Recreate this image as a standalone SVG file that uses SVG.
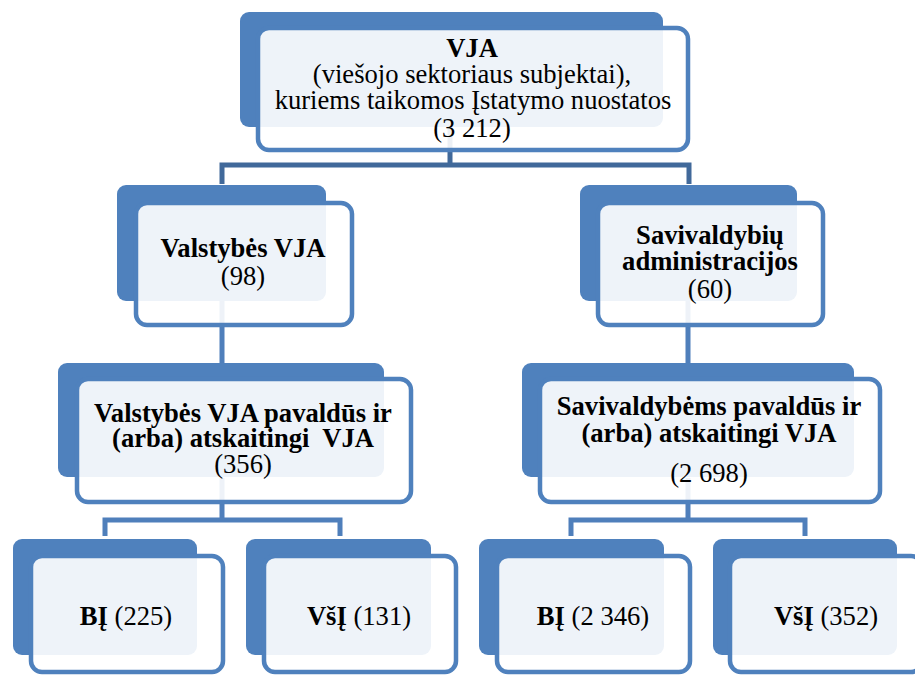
<svg xmlns="http://www.w3.org/2000/svg" width="915" height="675" viewBox="0 0 915 675">
<style>
.bk{fill:#4F81BD}
.fr{fill:#FFFFFF;fill-opacity:0.9;stroke:#4F81BD;stroke-width:4.5}
text{font-family:'Liberation Serif','Times New Roman',Times,'DejaVu Serif',serif;font-size:26.6px;fill:#000;text-anchor:middle}
.b{font-weight:bold}
.c1{fill:none;stroke:#41699A;stroke-width:5}
.c2{fill:none;stroke:#4F7FBB;stroke-width:5}
</style>
<rect width="915" height="675" fill="#FFFFFF"/>
<g id="connectors">
<path class="c1" d="M450,120 V165 M222,184 V165 H689 V184"/>
<path class="c2" d="M222,300 V364 M688,300 V364"/>
<path class="c2" d="M222,478 V520 M105,536 V520 H340 V536"/>
<path class="c2" d="M688,478 V520 M571,536 V520 H805 V536"/>
</g>
<g id="n-vja">
<rect class="bk" x="240" y="12" width="423" height="115" rx="9"/>
<rect class="fr" x="258" y="28" width="430" height="122" rx="11"/>
<text><tspan class="b" x="472" y="57">VJA</tspan><tspan x="472" y="83">(viešojo sektoriaus subjektai),</tspan><tspan x="473" y="109">kuriems taikomos Įstatymo nuostatos</tspan><tspan x="472" y="137">(3 212)</tspan></text>
</g>
<g id="n-valst">
<rect class="bk" x="117" y="185" width="209" height="116" rx="9"/>
<rect class="fr" x="136" y="203" width="216" height="122" rx="11"/>
<text><tspan class="b" x="243" y="257">Valstybės VJA</tspan><tspan x="243" y="285">(98)</tspan></text>
</g>
<g id="n-saviv">
<rect class="bk" x="580" y="185" width="217" height="116" rx="9"/>
<rect class="fr" x="598" y="203" width="225" height="122" rx="11"/>
<text><tspan class="b" x="710" y="244">Savivaldybių</tspan><tspan class="b" x="710" y="270">administracijos</tspan><tspan x="710" y="298">(60)</tspan></text>
</g>
<g id="n-valst-pav">
<rect class="bk" x="58" y="363" width="326" height="114" rx="9"/>
<rect class="fr" x="77" y="379" width="334" height="123" rx="11"/>
<text xml:space="preserve"><tspan class="b" x="243" y="422">Valstybės VJA pavaldūs ir</tspan><tspan class="b" x="243" y="447">(arba) atskaitingi  VJA</tspan><tspan x="243" y="473">(356)</tspan></text>
</g>
<g id="n-saviv-pav">
<rect class="bk" x="522" y="363" width="332" height="114" rx="9"/>
<rect class="fr" x="540" y="379" width="340" height="123" rx="11"/>
<text><tspan class="b" x="709" y="415">Savivaldybėms pavaldūs ir</tspan><tspan class="b" x="709" y="442">(arba) atskaitingi VJA</tspan><tspan x="709" y="482">(2 698)</tspan></text>
</g>
<g id="n-bi1">
<rect class="bk" x="13" y="539" width="184" height="116" rx="9"/>
<rect class="fr" x="31" y="556" width="192" height="116" rx="11"/>
<text x="126" y="625"><tspan class="b">BĮ</tspan> (225)</text>
</g>
<g id="n-vsi1">
<rect class="bk" x="246" y="539" width="185" height="116" rx="9"/>
<rect class="fr" x="264" y="556" width="192" height="116" rx="11"/>
<text x="359" y="625"><tspan class="b">VšĮ</tspan> (131)</text>
</g>
<g id="n-bi2">
<rect class="bk" x="479" y="539" width="185" height="116" rx="9"/>
<rect class="fr" x="497" y="556" width="193" height="116" rx="11"/>
<text x="593" y="625"><tspan class="b">BĮ</tspan> (2 346)</text>
</g>
<g id="n-vsi2">
<rect class="bk" x="713" y="539" width="184" height="116" rx="9"/>
<rect class="fr" x="730" y="556" width="192" height="116" rx="11"/>
<text x="826" y="625"><tspan class="b">VšĮ</tspan> (352)</text>
</g>
</svg>
